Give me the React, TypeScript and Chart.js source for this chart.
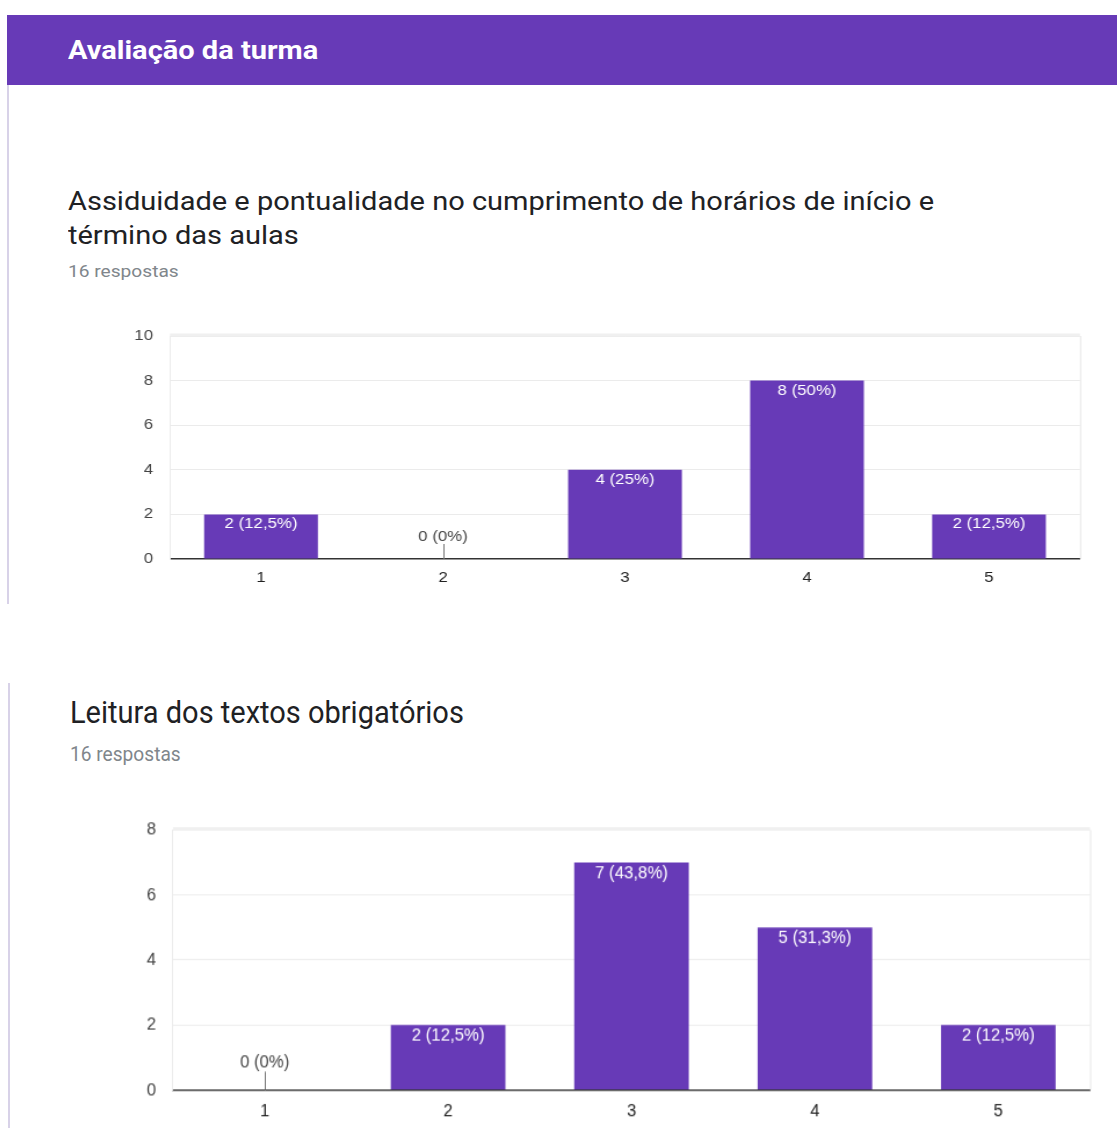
import React, { useEffect, useRef } from "react";
import { Chart, registerables } from "chart.js";

Chart.register(...registerables);

const PAGE_TITLE = "Avaliação da turma";
const RESPONSES_LABEL = "16 respostas";
const TOTAL = 16;

const categories = ["1", "2", "3", "4", "5"];

const q1Title = ["Assiduidade e pontualidade no cumprimento de horários de início e", "término das aulas"];
const q1Values = [2, 0, 4, 8, 2];
const q1Max = 10;

const q2Title = ["Leitura dos textos obrigatórios"];
const q2Values = [0, 2, 7, 5, 2];
const q2Max = 8;

const yStep = 2;

const PURPLE = "#673AB7";
const CHART_FONT = "'Liberation Sans', Arial, sans-serif";
const UI_FONT = "Roboto, 'Noto Sans', sans-serif";
// the reference screenshot is stretched horizontally; the second card also vertically
const SX = 1.16;
const SY2 = 1.22;

function fmtPct(v: number) {
  const p = (v / TOTAL) * 100;
  const r = Math.round(p * 10) / 10;
  const s = Number.isInteger(r) ? String(r) : r.toFixed(1).replace(".", ",");
  return `${v} (${s}%)`;
}

const labelPlugin = {
  id: "barLabels",
  afterDatasetsDraw(chart: any) {
    const ctx = chart.ctx;
    const meta = chart.getDatasetMeta(0);
    const data = chart.data.datasets[0].data as number[];
    const area = chart.chartArea;
    const o = chart.options.plugins.barLabels || {};
    const zeroGap = o.zeroGap ?? 24;
    const inOff = o.inOff ?? 11;
    ctx.save();
    ctx.strokeStyle = "#e8e8e8";
    ctx.lineWidth = 1;
    ctx.beginPath();
    ctx.moveTo(area.right + 0.5, area.top);
    ctx.lineTo(area.right + 0.5, area.bottom);
    ctx.stroke();
    ctx.strokeStyle = "#f0f0f0";
    ctx.lineWidth = 3;
    ctx.beginPath();
    ctx.moveTo(area.left, area.top - 1);
    ctx.lineTo(area.right, area.top - 1);
    ctx.stroke();

    ctx.font = `14.5px ${CHART_FONT}`;
    ctx.textAlign = "center";
    ctx.textBaseline = "middle";
    meta.data.forEach((el: any, i: number) => {
      const v = data[i];
      const txt = fmtPct(v);
      if (v > 0) {
        ctx.fillStyle = "#ffffff";
        ctx.fillText(txt, el.x, el.y + inOff);
      } else {
        ctx.strokeStyle = "#777";
        ctx.lineWidth = 1;
        ctx.beginPath();
        ctx.moveTo(Math.round(el.x) + 0.5, el.base);
        ctx.lineTo(Math.round(el.x) + 0.5, el.base - (zeroGap - 7));
        ctx.stroke();
        ctx.fillStyle = "#444";
        ctx.fillText(txt, el.x, el.base - zeroGap);
      }
    });
    ctx.restore();
  },
};

type BarProps = {
  values: number[];
  max: number;
  left: number;
  top: number;
  width: number;
  height: number;
  plotLeft: number;
  plotRight: number;
  plotTop: number;
  plotBottom: number;
  labelGap: number; // page px from baseline to x label centre
  zeroGap: number; // page px
  inOff: number; // page px
  sy: number;
};

function BarChart(p: BarProps) {
  const ref = useRef<HTMLCanvasElement>(null);
  const cw = Math.round(p.width / SX);
  const ch = Math.round(p.height / p.sy);
  const yWidth = (p.plotLeft - p.left) / SX;
  const padRight = cw - (p.plotRight - p.left) / SX;
  const padTop = (p.plotTop - p.top) / p.sy;
  const xHeight = 24;
  const padBottom = ch - (p.plotBottom - p.top) / p.sy - xHeight;
  const xPad = p.labelGap / p.sy - 8;
  useEffect(() => {
    if (!ref.current) return;
    const chart = new Chart(ref.current, {
      type: "bar",
      data: {
        labels: categories,
        datasets: [
          {
            data: p.values,
            backgroundColor: PURPLE,
            borderWidth: 0,
            barPercentage: 0.625,
            categoryPercentage: 1,
          },
        ],
      },
      options: {
        animation: false,
        responsive: false,
        maintainAspectRatio: false,
        layout: { padding: { top: padTop, right: padRight, bottom: padBottom, left: 0 } },
        plugins: {
          legend: { display: false },
          tooltip: { enabled: false },
          barLabels: { zeroGap: p.zeroGap / p.sy, inOff: p.inOff / p.sy },
        } as any,
        scales: {
          x: {
            grid: { color: "rgba(0,0,0,0)", drawTicks: false },
            border: { display: true, color: "#333", width: 1.5 / p.sy },
            ticks: { color: "#222", font: { family: CHART_FONT, size: 14.5 }, padding: xPad },
            afterFit: (s: any) => {
              s.height = xHeight;
              s.paddingTop = 0;
              s.paddingBottom = 0;
              s.paddingLeft = 0;
              s.paddingRight = 0;
            },
          },
          y: {
            min: 0,
            max: p.max,
            grid: {
              drawTicks: false,
              lineWidth: 1 / p.sy,
              color: (c: any) => (c.tick && c.tick.value === 0 ? "rgba(0,0,0,0)" : "#ebebeb"),
            },
            border: { display: true, color: "#ebebeb", width: 1 },
            ticks: { stepSize: yStep, color: "#444", font: { family: CHART_FONT, size: 14.5 }, padding: 17 / SX },
            afterFit: (s: any) => {
              s.width = yWidth;
              s.paddingTop = 0;
              s.paddingBottom = 0;
              s.paddingLeft = 0;
              s.paddingRight = 0;
            },
          },
        },
      },
      plugins: [labelPlugin],
    });
    return () => chart.destroy();
  }, []);
  return (
    <div
      style={{
        position: "absolute",
        left: p.left,
        top: p.top,
        width: cw,
        height: ch,
        transform: `scale(${SX}, ${p.sy})`,
        transformOrigin: "0 0",
      }}
    >
      <canvas ref={ref} width={cw} height={ch} style={{ display: "block", width: cw, height: ch }} />
    </div>
  );
}

const base: React.CSSProperties = {
  position: "absolute",
  transformOrigin: "0 0",
  whiteSpace: "nowrap",
  fontFamily: UI_FONT,
};

const titleStyle: React.CSSProperties = {
  ...base,
  fontSize: 25,
  color: "#202124",
  lineHeight: "34px",
};

const subStyle: React.CSSProperties = {
  ...base,
  fontSize: 16.5,
  lineHeight: "20px",
  color: "#80868b",
};

export default function App() {
  return (
    <div style={{ position: "absolute", left: 0, top: 0, width: 1117, height: 1128, background: "#fff", overflow: "hidden" }}>
      <div style={{ position: "absolute", left: 7, top: 15, width: 1110, height: 70, background: PURPLE }}>
        <div
          style={{
            ...base,
            transform: `scaleX(${SX})`,
            left: 61,
            top: 21,
            fontWeight: 700,
            fontSize: 25,
            color: "#fff",
          }}
        >
          {PAGE_TITLE}
        </div>
      </div>
      <div style={{ position: "absolute", left: 7, top: 85, width: 2, height: 519, background: "#d8d2e8" }} />
      <div style={{ ...titleStyle, transform: `scaleX(${SX})`, left: 68, top: 185 }}>
        {q1Title.map((t, i) => (
          <div key={i}>{t}</div>
        ))}
      </div>
      <div style={{ ...subStyle, transform: `scaleX(${SX})`, left: 68, top: 262 }}>{RESPONSES_LABEL}</div>
      <BarChart
        values={q1Values}
        max={q1Max}
        left={100}
        top={315}
        width={1010}
        height={285}
        plotLeft={170}
        plotRight={1080}
        plotTop={336}
        plotBottom={559}
        labelGap={18}
        zeroGap={22}
        inOff={10}
        sy={1}
      />

      <div style={{ position: "absolute", left: 8, top: 683, width: 2, height: 445, background: "#d8d2e8" }} />
      <div style={{ ...titleStyle, transform: `scale(${SX}, ${SY2})`, left: 70, top: 692 }}>
        {q2Title.map((t, i) => (
          <div key={i}>{t}</div>
        ))}
      </div>
      <div style={{ ...subStyle, transform: `scale(${SX}, ${SY2})`, left: 70, top: 743 }}>{RESPONSES_LABEL}</div>
      <BarChart
        values={q2Values}
        max={q2Max}
        left={100}
        top={810}
        width={1010}
        height={318}
        plotLeft={173}
        plotRight={1090}
        plotTop={830}
        plotBottom={1090}
        labelGap={20}
        zeroGap={27}
        inOff={11}
        sy={SY2}
      />
    </div>
  );
}
